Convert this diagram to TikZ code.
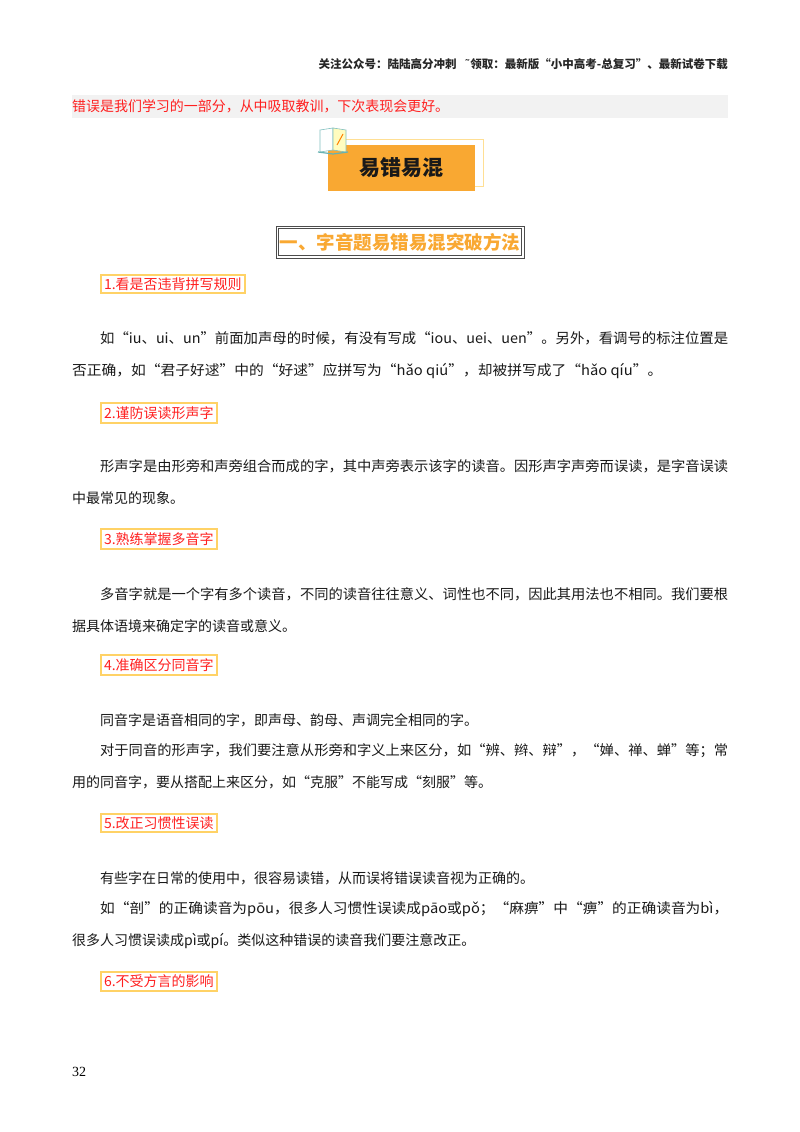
\documentclass[tikz,border=0pt]{standalone}
\usepackage{fontspec}
\usepackage{graphicx}
\setmainfont{Liberation Serif}
\newfontfamily\cjk{Noto Sans CJK SC}
\newfontfamily\dejavu{DejaVu Sans}
\definecolor{org}{HTML}{F9A832}
\definecolor{boxy}{HTML}{FFD266}
\definecolor{redt}{HTML}{FF2020}
\definecolor{bann}{HTML}{F2F2F2}
\newcommand{\jl}[2]{\resizebox{#1}{\height}{#2}}
\tikzset{
 body/.style={anchor=base west,inner sep=0pt,font=\cjk\fontsize{14}{14}\selectfont,text=black!90},
 sub/.style={anchor=west,draw=boxy,line width=2pt,fill=white,inner xsep=3pt,inner ysep=3pt,font=\cjk\fontsize{14}{14}\selectfont,text=redt},
}
\begin{document}
\begin{tikzpicture}[x=1pt,y=-1pt]
\useasboundingbox (0,0) rectangle (800,1132);
\fill[white] (0,0) rectangle (800,1132);
% header
\node[anchor=base east,inner sep=0pt,font=\cjk\fontsize{11.5}{12}\selectfont\bfseries,text=black!85] (hdr) at (728,69) {关注公众号：陆陆高分冲刺\ \ \ {\dejavu\char"02DC}领取：最新版“小中高考-总复习”、最新试卷下载};
% banner
\fill[bann] (72,95) rectangle (728,118);
\node[body,text=redt] (ban) at (72,111) {\jl{377pt}{错误是我们学习的一部分，从中吸取教训，下次表现会更好。}};
% title box
\draw[boxy!70,line width=0.8pt] (336,139) rectangle (483,186);
\fill[org] (328,145) rectangle (475,191);
\node[font=\cjk\fontsize{21}{22}\selectfont\bfseries,text=black!90] (ttl) at (401.5,168) {易错易混};
% book icon
\fill[white,draw=teal!50,line width=0.6pt] (320,130) -- (333,128) -- (333,150) -- (320,152) -- cycle;
\fill[yellow!25,draw=teal!50,line width=0.6pt] (333,128) -- (346,130) -- (346,152) -- (333,150) -- cycle;
\draw[teal!60,line width=1.2pt] (318,152) -- (333,154) -- (348,152);
\draw[orange,line width=1pt] (337,145) -- (343,134);
% section heading
\draw[black!70,line width=0.8pt] (276,226) rectangle (524,258);
\draw[black!70,line width=1.2pt] (278.5,228.5) rectangle (521.5,255.5);
\node[font=\cjk\fontsize{18.5}{20}\selectfont\bfseries,text=org] (sec) at (400,242) {一、字音题易错易混突破方法};
% subsections
\node[sub] (s1) at (100,284) {1.看是否违背拼写规则};
\node[sub] (s2) at (100,413) {2.谨防误读形声字};
\node[sub] (s3) at (100,539) {3.熟练掌握多音字};
\node[sub] (s4) at (100,665) {4.准确区分同音字};
\node[sub] (s5) at (100,823) {5.改正习惯性误读};
\node[sub] (s6) at (100,981) {6.不受方言的影响};
% paragraphs
\node[body] (p1a) at (100,343) {\jl{628pt}{如“iu、ui、un”前面加声母的时候，有没有写成“iou、uei、uen”。另外，看调号的标注位置是}};
\node[body] (p1b) at (72,375) {\jl{590pt}{否正确，如“君子好逑”中的“好逑”应拼写为“hǎo qiú”，却被拼写成了“hǎo qíu”。}};
\node[body] (p2a) at (100,471) {\jl{628pt}{形声字是由形旁和声旁组合而成的字，其中声旁表示该字的读音。因形声字声旁而误读，是字音误读}};
\node[body] (p2b) at (72,503) {中最常见的现象。};
\node[body] (p3a) at (100,599) {\jl{628pt}{多音字就是一个字有多个读音，不同的读音往往意义、词性也不同，因此其用法也不相同。我们要根}};
\node[body] (p3b) at (72,631) {据具体语境来确定字的读音或意义。};
\node[body] (p4a) at (100,725) {同音字是语音相同的字，即声母、韵母、声调完全相同的字。};
\node[body] (p4b) at (100,755) {\jl{628pt}{对于同音的形声字，我们要注意从形旁和字义上来区分，如“辨、辫、辩”，“婵、禅、蝉”等；常}};
\node[body] (p4c) at (72,787) {用的同音字，要从搭配上来区分，如“克服”不能写成“刻服”等。};
\node[body] (p5a) at (100,883) {有些字在日常的使用中，很容易读错，从而误将错误读音视为正确的。};
\node[body] (p5b) at (100,913) {\jl{628pt}{如“剖”的正确读音为pōu，很多人习惯性误读成pāo或pǒ；“麻痹”中“痹”的正确读音为bì，}};
\node[body] (p5c) at (72,945) {很多人习惯误读成pì或pí。类似这种错误的读音我们要注意改正。};
% page number
\node[anchor=base west,inner sep=0pt,font=\fontsize{14}{14}\selectfont] (pg) at (72,1076) {32};
\end{tikzpicture}
\end{document}
